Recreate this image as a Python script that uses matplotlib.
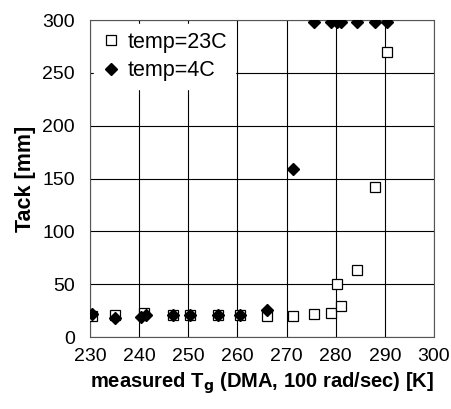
import matplotlib.pyplot as plt

plt.rcParams['font.family'] = ['Liberation Sans', 'DejaVu Sans']

# temp=23C (hollow squares)
tg_23 = [230.5, 235, 241, 247, 250.4, 256, 260.6, 266, 271.4, 275.6, 279, 281, 280.3, 284.4, 288, 290.5]
tack_23 = [20, 21, 23, 21, 21, 21, 21, 20, 20, 22, 23, 29, 50, 63, 142, 270]

# temp=4C (filled diamonds)
tg_4 = [230.5, 235, 240.3, 241.5, 247, 250.4, 256, 260.6, 266, 271.4, 275.6, 279, 280.3, 281, 284.4, 288, 290.5]
tack_4 = [22, 18, 19, 21, 21, 21, 21, 21, 26, 159, 298, 298, 298, 298, 298, 298, 298]

fig = plt.figure(figsize=(4.52, 4.09), dpi=100)
ax = fig.add_axes([0.199, 0.176, 0.761, 0.775])

ax.plot(tg_23, tack_23, linestyle='none', marker='s', markersize=7,
        markerfacecolor='white', markeredgecolor='black', markeredgewidth=0.9,
        label='temp=23C', zorder=3)
ax.plot(tg_4, tack_4, linestyle='none', marker='D', markersize=6,
        color='black', label='temp=4C', zorder=4)

ax.set_xlim(230, 300)
ax.set_ylim(0, 300)
ax.set_xticks(range(230, 301, 10))
ax.set_yticks(range(0, 301, 50))
ax.tick_params(length=0, labelsize=14)
ax.tick_params(axis='x', pad=8)
ax.tick_params(axis='y', pad=11)
ax.grid(True, color='black', linewidth=0.8)
ax.set_axisbelow(True)
for s in ax.spines.values():
    s.set_color('#555555')
    s.set_linewidth(0.8)

ax.set_xlabel('measured T$_\\mathbf{g}$ (DMA, 100 rad/sec) [K]', fontsize=14.5, fontweight='bold', labelpad=4)
ax.set_ylabel('Tack [mm]', fontsize=15.5, fontweight='bold', labelpad=4)

leg = ax.legend(loc='upper left', frameon=True, fontsize=15.5, handletextpad=0.3,
                borderaxespad=0.2, borderpad=0.35, handlelength=0.9, labelspacing=0.35)
leg.get_frame().set_edgecolor('white')
leg.get_frame().set_alpha(1)
leg.get_frame().set_boxstyle('square', pad=0)

plt.savefig('out.png', dpi=100)
